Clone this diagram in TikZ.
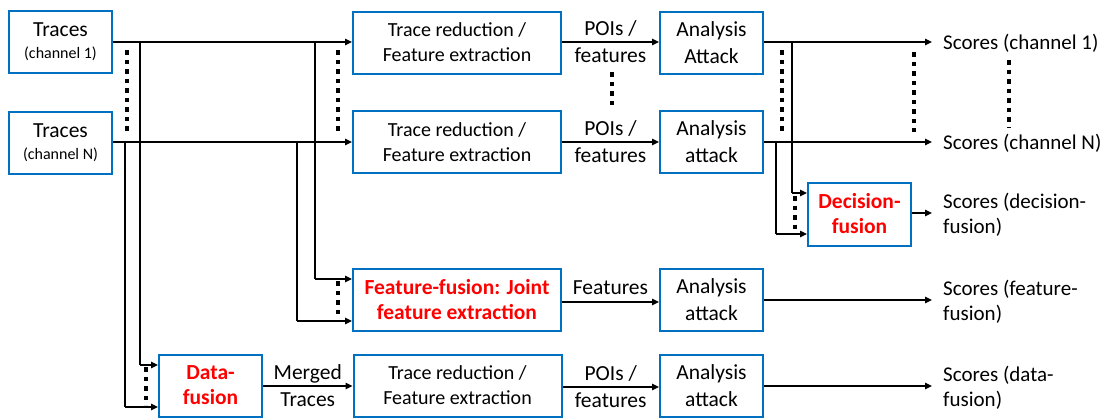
\documentclass[tikz,border=0pt]{standalone}
\usepackage{fontspec}
\setmainfont{Carlito}
\usetikzlibrary{arrows.meta,calc}
\definecolor{boxblue}{RGB}{0,112,192}
\definecolor{fusionred}{RGB}{255,0,0}
\newcommand{\labelsize}{\fontsize{21.5}{27}\selectfont}
\newcommand{\redtxt}[1]{\textcolor{fusionred}{\bfseries #1}}
\tikzset{
  box/.style={draw=boxblue, line width=2pt, inner sep=0pt, align=center, font=\labelsize},
  wide/.style={box, minimum width=208pt, minimum height=62pt},
  narrow/.style={box, minimum width=103pt, minimum height=62pt},
  reduce/.style={wide, font=\fontsize{20}{25}\selectfont},
  fusebox/.style={font=\fontsize{21.5}{25}\selectfont},
  lbl/.style={inner sep=0pt, align=center, font=\labelsize},
  score/.style={inner sep=0pt, anchor=west, align=left, font=\fontsize{21}{25.5}\selectfont},
  arr/.style={line width=1.5pt, -{Triangle[length=7pt,width=6.5pt]}},
  wire/.style={line width=1.5pt},
  ellip/.style={line width=4.5pt, dash pattern=on 4.5pt off 5pt},
}
\begin{document}
\begin{tikzpicture}[x=1pt, y=-1pt]
\useasboundingbox (0,0) rectangle (1107,418);

% inputs
\node[narrow] (t1) at (60.5,41.5) {Traces\\[-5pt]{\fontsize{16}{18}\selectfont (channel 1)}};
\node[narrow] (tN) at (60.5,142.5) {Traces\\[-5pt]{\fontsize{16}{18}\selectfont (channel N)}};

% per-channel chains
\node[reduce] (r1) at (457,42.5) {Trace reduction /\\Feature extraction};
\node[narrow] (a1) at (711.5,42.5) {Analysis\\Attack};
\node[reduce] (rN) at (457,142) {Trace reduction /\\Feature extraction};
\node[narrow] (aN) at (711.5,142) {Analysis\\attack};
\node[score] (s1) at (943,43) {Scores (channel 1)};
\node[score] (sN) at (943,143) {Scores (channel N)};

% decision fusion
\node[narrow, fusebox, minimum height=63pt] (df) at (859.5,214) {\redtxt{Decision-}\\\redtxt{fusion}};
\node[score] (sd) at (943,215) {Scores (decision-\\fusion)};

% feature fusion
\node[wide, fusebox] (ff) at (457,300) {\redtxt{Feature-fusion: Joint}\\\redtxt{feature extraction}};
\node[narrow] (af) at (711.5,300) {Analysis\\attack};
\node[score] (sf) at (943,302) {Scores (feature-\\fusion)};

% data fusion
\node[narrow, fusebox] (dataf) at (210.5,385.5) {\redtxt{Data-}\\\redtxt{fusion}};
\node[reduce] (r5) at (457.5,385.5) {Trace reduction /\\Feature extraction};
\node[narrow] (a5) at (711.5,385.5) {Analysis\\attack};
\node[score] (s5) at (943,388) {Scores (data-\\fusion)};

% branch points on the channel wires
\coordinate (b1d) at (140,42);
\coordinate (b1f) at (315,42);
\coordinate (bNd) at (125,142);
\coordinate (bNf) at (297,142);
\coordinate (c1) at (792,42);
\coordinate (cN) at (776,142);

% channel wires
\draw[arr] (t1.east |- 0,42) -- (r1.west |- 0,42);
\draw[arr] (tN.east |- 0,142) -- (rN.west |- 0,142);
\draw[arr] (r1.east |- 0,42) -- node[lbl]{POIs /\\features} (a1.west |- 0,42);
\draw[arr] (rN.east |- 0,142) -- node[lbl]{POIs /\\features} (aN.west |- 0,142);
\draw[arr] (a1.east |- 0,42) -- ([xshift=-11pt]s1.west |- 0,42);
\draw[arr] (aN.east |- 0,142) -- ([xshift=-11pt]sN.west |- 0,142);

% feeds into data fusion
\draw[wire] (b1d) -- (b1d |- 0,365);
\draw[arr] (b1d |- 0,365) -- (dataf.west |- 0,365);
\draw[wire] (bNd) -- (bNd |- 0,407);
\draw[arr] (bNd |- 0,407) -- (dataf.west |- 0,407);

% feeds into feature fusion
\draw[wire] (b1f) -- (b1f |- 0,279);
\draw[arr] (b1f |- 0,279) -- (ff.west |- 0,279);
\draw[wire] (bNf) -- (bNf |- 0,321);
\draw[arr] (bNf |- 0,321) -- (ff.west |- 0,321);

% feeds into decision fusion
\draw[wire] (c1) -- (c1 |- 0,193);
\draw[arr] (c1 |- 0,193) -- (df.west |- 0,193);
\draw[wire] (cN) -- (cN |- 0,234);
\draw[arr] (cN |- 0,234) -- (df.west |- 0,234);
\draw[arr] (df.east |- 0,213) -- ([xshift=-11pt]sd.west |- 0,213);

% lower chains
\draw[arr] (ff.east |- 0,302) -- node[lbl, above=7pt]{Features} (af.west |- 0,302);
\draw[arr] (af.east |- 0,300) -- ([xshift=-11pt]sf.west |- 0,300);
\draw[arr] (dataf.east |- 0,386) -- node[lbl]{Merged\\Traces} (r5.west |- 0,386);
\draw[arr] (r5.east |- 0,387) -- node[lbl]{POIs /\\features} (a5.west |- 0,387);
\draw[arr] (a5.east |- 0,386) -- ([xshift=-11pt]s5.west |- 0,386);

% ellipsis marks for the channels in between
\draw[ellip] (127,50) -- (127,132);
\draw[ellip] (338,50) -- (338,132);
\draw[ellip] (612,72) -- (612,110);
\draw[ellip] (782,50) -- (782,132);
\draw[ellip] (914,52) -- (914,132);
\draw[ellip] (1009,60) -- (1009,128);
\draw[ellip] (795,196) -- (795,234);
\draw[ellip] (338,281) -- (338,319);
\draw[ellip] (146,367) -- (146,405);
\end{tikzpicture}
\end{document}
